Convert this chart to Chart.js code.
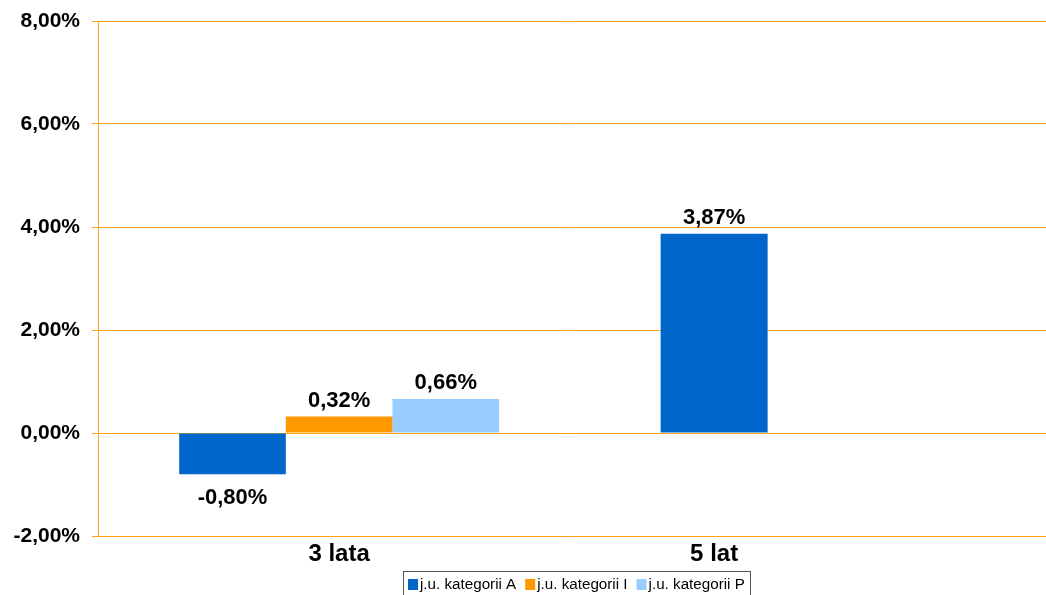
<!DOCTYPE html>
<html>
<head>
<meta charset="utf-8">
<script src="https://cdn.jsdelivr.net/npm/chart.js@4.4.1/dist/chart.umd.min.js"></script>
<style>
  html, body { margin: 0; padding: 0; background: #fff; }
  #wrap { width: 1046px; height: 595px; }
</style>
</head>
<body>
<div id="wrap"><canvas id="chart" width="1046" height="595"></canvas></div>
<script>
// data
const categories = ['3 lata', '5 lat'];
const seriesNames = ['j.u. kategorii A', 'j.u. kategorii I', 'j.u. kategorii P'];
const seriesA = [-0.80, 3.87];
const seriesI = [0.32, null];
const seriesP = [0.66, null];
const yTicks = [-2, 0, 2, 4, 6, 8];

const colors = ['#0066CC', '#FF9900', '#99CCFF'];
const gridColor = '#FFA31A';
const FONT = '"Liberation Sans", Arial, sans-serif';

function fmt(v) {
    return v.toFixed(2).replace('.', ',') + '%';
}

function toPoints(arr) {
    return arr.map((v, i) => ({ x: i, y: v }));
}

// value labels above / below bars
const valueLabels = {
    id: 'valueLabels',
    afterDatasetsDraw(chart) {
        const ctx = chart.ctx;
        ctx.save();
        ctx.font = 'bold 22px ' + FONT;
        ctx.fillStyle = '#000';
        ctx.textAlign = 'center';
        ctx.textBaseline = 'alphabetic';
        chart.data.datasets.forEach((ds, di) => {
            const meta = chart.getDatasetMeta(di);
            meta.data.forEach((bar, i) => {
                const v = ds.data[i].y;
                if (v === null) return;
                if (v >= 0) {
                    ctx.fillText(fmt(v), bar.x, bar.y - 10);
                } else {
                    ctx.fillText(fmt(v), bar.x, bar.y + 30);
                }
            });
        });
        ctx.restore();
    }
};

// legend drawn by hand, frame runs off the bottom edge
const boxLegend = {
    id: 'boxLegend',
    afterDraw(chart) {
        const ctx = chart.ctx;
        ctx.save();
        ctx.font = '15.2px ' + FONT;
        const widths = seriesNames.map(n => ctx.measureText(n).width);
        const sq = 10, gapIn = 2, gapOut = 9, padX = 5;
        let total = padX * 2;
        widths.forEach((w, i) => { total += sq + gapIn + w + (i < widths.length - 1 ? gapOut : 0); });
        const left = 403;
        const top = 571;
        ctx.strokeStyle = '#555';
        ctx.lineWidth = 1;
        ctx.strokeRect(left + 0.5, top + 0.5, Math.round(total), 40);
        let x = left + padX;
        ctx.textBaseline = 'alphabetic';
        ctx.textAlign = 'left';
        seriesNames.forEach((n, i) => {
            ctx.fillStyle = colors[i];
            ctx.fillRect(x, top + 8, sq, sq + 1);
            x += sq + gapIn;
            ctx.fillStyle = '#000';
            ctx.fillText(n, x, top + 18);
            x += widths[i] + gapOut;
        });
        ctx.restore();
    }
};

const ctx = document.getElementById('chart');

new Chart(ctx, {
    type: 'bar',
    data: {
        datasets: [
            { label: seriesNames[0], data: toPoints(seriesA), backgroundColor: colors[0], maxBarThickness: 107 },
            { label: seriesNames[1], data: toPoints(seriesI), backgroundColor: colors[1], maxBarThickness: 107 },
            { label: seriesNames[2], data: toPoints(seriesP), backgroundColor: colors[2], maxBarThickness: 107 }
        ]
    },
    options: {
        responsive: false,
        animation: false,
        skipNull: true,
        categoryPercentage: 0.853,
        barPercentage: 1.0,
        layout: { padding: { top: 21, right: 0, left: 0, bottom: 0 } },
        plugins: {
            tooltip: { enabled: false },
            legend: { display: false }
        },
        scales: {
            x: {
                type: 'linear',
                offset: false,
                min: -0.643,
                max: 1.885,
                afterBuildTicks(scale) {
                    scale.ticks = categories.map((c, i) => ({ value: i }));
                },
                afterFit(scale) { scale.height = 59; },
                grid: { display: false, drawTicks: false, offset: false },
                border: { display: false },
                ticks: {
                    color: '#000',
                    padding: 4,
                    maxRotation: 0,
                    font: { family: FONT, size: 24, weight: 'bold' },
                    callback: (v) => categories[v] !== undefined ? categories[v] : ''
                }
            },
            y: {
                min: -2,
                max: 8,
                afterBuildTicks(scale) {
                    scale.ticks = yTicks.map(v => ({ value: v }));
                },
                afterFit(scale) {
                    scale.width = 98;
                    scale.paddingTop = 0;
                    scale.paddingBottom = 0;
                },
                grid: { color: gridColor, lineWidth: 1, tickLength: 6 },
                border: { color: gridColor, width: 1 },
                ticks: {
                    color: '#000',
                    padding: 12,
                    font: { family: FONT, size: 21, weight: 'bold' },
                    callback: (v) => fmt(v)
                }
            }
        }
    },
    plugins: [valueLabels, boxLegend]
});
</script>
</body>
</html>
